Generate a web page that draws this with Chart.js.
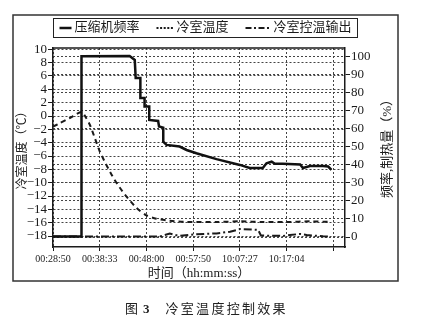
<!DOCTYPE html>
<html>
<head>
<meta charset="utf-8">
<script src="https://cdn.jsdelivr.net/npm/chart.js@4/dist/chart.umd.min.js"></script>
<style>
  html, body { margin: 0; padding: 0; background: #fff; }
  #wrap { width: 431px; height: 327px; position: relative; }
</style>
</head>
<body>
<div id="wrap"><canvas id="c"></canvas></div>
<script>
// x positions are in "tick steps": 0 = first labelled time, 1 = next, ...
const xLabels = ['00:28:50', '00:38:33', '00:48:00', '00:57:50', '10:07:27', '10:17:04', ''];
const leftTicks = [10, 8, 6, 4, 2, 0, -2, -4, -6, -8, -10, -12, -14, -16, -18];
const rightTicks = [0, 10, 20, 30, 40, 50, 60, 70, 80, 90, 100];

// compressor frequency (%)
const freqT = [0, 0.61, 0.61, 1.64, 1.75, 1.77, 1.87, 1.87, 1.96, 1.96, 2.06, 2.06, 2.25, 2.27, 2.36, 2.36,
               2.43, 2.71, 2.86, 3.07, 3.5, 4.0, 4.21, 4.49, 4.57, 4.68, 4.75, 4.92, 5.29, 5.35, 5.5, 5.78, 5.89, 5.96];
const freqV = [0.3, 0.3, 100.3, 100.5, 98.3, 88.2, 88.2, 77.1, 77.1, 72.4, 72.4, 65.0, 64.4, 61.3, 60.7, 52.9,
               51.1, 50.2, 48.3, 46.5, 43.2, 40.0, 38.3, 38.3, 40.9, 41.8, 40.6, 40.6, 40.3, 38.3, 39.4, 39.4, 39.1, 37.2];

// cold room temperature (°C)
const tempT = [0, 0.14, 0.36, 0.61, 0.71, 0.8, 0.9, 1.0, 1.14, 1.32, 1.54, 1.79, 2.0, 2.21, 2.5, 2.86, 3.5, 4.0, 4.5, 5.0, 5.5, 5.96];
const tempV = [-1.6, -1.1, -0.3, 0.6, -0.3, -1.5, -3.4, -5.3, -7.3, -9.6, -11.8, -13.8, -14.9, -15.4, -15.7, -15.9, -15.9, -15.8, -15.9, -15.9, -15.8, -15.9];

// cold room control output (%)
const ctrlT = [0, 2.29, 2.5, 2.71, 3.0, 3.5, 3.79, 4.0, 4.39, 4.45, 4.92, 5.07, 5.29, 5.43, 5.78, 5.89];
const ctrlV = [0.3, 0.3, 1.9, 0.6, 1.4, 2.0, 2.9, 4.4, 4.0, 0.8, 0.6, 1.1, 1.7, 1.1, 0.4, 0.3];

const seriesNames = ['压缩机频率', '冷室温度', '冷室控温输出'];
const xTitle = '时间（hh:mm:ss）';
const leftTitle = '冷室温度（℃）';
const rightTitle = '频率,制热量（%）';
const captionHead = '图';
const captionNum = '3';
const captionText = '冷室温度控制效果';

const pair = (xs, ys) => xs.map((x, i) => ({ x: x, y: ys[i] }));
const FONT = "'Liberation Serif', 'Noto Sans CJK SC', serif";
const INK = '#1b1b1b';
const W = 431, H = 327;
const FRAME = { left: 13, top: 15, right: 398, bottom: 281 };
const fmtNum = v => (v < 0 ? '\u2212' + Math.abs(v) : String(v));

const legendLook = [
  { w: 12, dash: [], lw: 2.5 },
  { w: 17, dash: [2, 1.6], lw: 2 },
  { w: 25, dash: [6, 2.5, 2, 2.5], lw: 2 }
];

const decor = {
  id: 'decor',
  afterDraw(chart) {
    const { ctx, chartArea: a } = chart;
    ctx.save();
    // outer frame
    ctx.strokeStyle = '#333';
    ctx.lineWidth = 1.5;
    ctx.strokeRect(FRAME.left, FRAME.top, FRAME.right - FRAME.left, FRAME.bottom - FRAME.top);
    // top edge of the plot area
    ctx.strokeStyle = INK;
    ctx.lineWidth = 1.5;
    ctx.beginPath();
    ctx.moveTo(a.left, a.top);
    ctx.lineTo(a.right, a.top);
    ctx.stroke();

    // legend box
    ctx.font = '13px ' + FONT;
    const padX = 6, gapS = 3, gapI = 17;
    let total = padX * 2;
    chart.data.datasets.forEach((ds, i) => {
      total += legendLook[i].w + gapS + ctx.measureText(ds.label).width + (i ? gapI : 0);
    });
    const boxTop = FRAME.top + 3, boxH = 19;
    let x = Math.round((FRAME.left + FRAME.right) / 2 - total / 2) + 0.5;
    ctx.lineWidth = 1;
    ctx.strokeStyle = '#222';
    ctx.strokeRect(x, boxTop + 0.5, Math.round(total), boxH);
    const cy = boxTop + boxH / 2 + 0.5;
    x += padX;
    chart.data.datasets.forEach((ds, i) => {
      const lk = legendLook[i];
      ctx.save();
      ctx.strokeStyle = ds.borderColor;
      ctx.lineWidth = lk.lw;
      ctx.setLineDash(lk.dash);
      ctx.beginPath();
      ctx.moveTo(x, cy);
      ctx.lineTo(x + lk.w, cy);
      ctx.stroke();
      ctx.restore();
      x += lk.w + gapS;
      ctx.fillStyle = INK;
      ctx.textBaseline = 'middle';
      ctx.textAlign = 'left';
      ctx.fillText(ds.label, x, cy);
      x += ctx.measureText(ds.label).width + gapI;
    });

    // right axis title, reading upwards
    ctx.save();
    ctx.font = '13px ' + FONT;
    ctx.fillStyle = INK;
    ctx.textAlign = 'center';
    ctx.textBaseline = 'middle';
    ctx.translate(388, (a.top + a.bottom) / 2 - 2);
    ctx.rotate(-Math.PI / 2);
    ctx.fillText(rightTitle, 0, 0);
    ctx.restore();

    // caption under the frame
    ctx.fillStyle = '#222';
    ctx.textBaseline = 'middle';
    ctx.textAlign = 'left';
    const capY = 310;
    let cx = 125;
    ctx.font = '13px ' + FONT;
    ctx.fillText(captionHead, cx, capY);
    cx += ctx.measureText(captionHead).width + 5;
    ctx.font = 'bold 13px ' + FONT;
    ctx.fillText(captionNum, cx, capY);
    cx += ctx.measureText(captionNum).width + 16;
    ctx.font = '13px ' + FONT;
    for (const ch of captionText) {
      ctx.fillText(ch, cx, capY);
      cx += ctx.measureText(ch).width + 2.3;
    }
    ctx.restore();
  }
};

const gridCommon = {
  color: '#444',
  lineWidth: 1,
  tickColor: INK,
  tickWidth: 1,
  tickBorderDash: [],
  tickLength: 5
};

new Chart(document.getElementById('c'), {
  type: 'line',
  data: {
    datasets: [
      {
        label: seriesNames[0],
        data: pair(freqT, freqV),
        yAxisID: 'yR',
        borderColor: '#111',
        borderWidth: 2.5,
        pointRadius: 0,
        tension: 0,
        borderJoinStyle: 'miter'
      },
      {
        label: seriesNames[1],
        data: pair(tempT, tempV),
        yAxisID: 'yL',
        borderColor: '#1a1a1a',
        borderWidth: 2,
        borderDash: [5, 4],
        pointRadius: 0,
        tension: 0.25
      },
      {
        label: seriesNames[2],
        data: pair(ctrlT, ctrlV),
        yAxisID: 'yR',
        borderColor: '#1a1a1a',
        borderWidth: 2,
        borderDash: [8, 3, 2, 3],
        pointRadius: 0,
        tension: 0
      }
    ]
  },
  options: {
    responsive: true,
    maintainAspectRatio: false,
    animation: false,
    devicePixelRatio: 1,
    layout: {
      padding: { left: FRAME.left, right: W - FRAME.right, top: 48, bottom: H - FRAME.bottom }
    },
    plugins: {
      legend: { display: false },
      tooltip: { enabled: false }
    },
    scales: {
      x: {
        type: 'linear',
        position: 'bottom',
        min: 0,
        max: 6.25,
        afterBuildTicks: s => { s.ticks = xLabels.map((_, i) => ({ value: i })); },
        afterFit: s => { s.height = 34; },
        ticks: {
          autoSkip: false,
          maxRotation: 0,
          padding: 2,
          color: INK,
          font: { family: FONT, size: 10 },
          callback: v => xLabels[Math.round(v)]
        },
        grid: Object.assign({}, gridCommon, { tickLength: 4 }),
        border: { display: true, color: INK, width: 1.5, dash: [2, 2] },
        title: {
          display: true,
          text: xTitle,
          color: INK,
          font: { family: FONT, size: 13 },
          padding: { top: 0, bottom: 0 }
        }
      },
      yL: {
        type: 'linear',
        position: 'left',
        min: -19.65,
        max: 10.2,
        afterBuildTicks: s => { s.ticks = leftTicks.map(v => ({ value: v })); },
        afterFit: s => { s.width = 40; },
        ticks: {
          autoSkip: false,
          padding: 1,
          color: INK,
          font: { family: FONT, size: 13 },
          callback: v => fmtNum(v)
        },
        grid: Object.assign({}, gridCommon),
        border: { display: true, color: INK, width: 1.5, dash: [2, 2] },
        title: {
          display: true,
          text: leftTitle,
          color: INK,
          font: { family: FONT, size: 12 },
          padding: { top: 3, bottom: 0 }
        }
      },
      yR: {
        type: 'linear',
        position: 'right',
        min: -5.55,
        max: 104.9,
        afterBuildTicks: s => { s.ticks = rightTicks.map(v => ({ value: v })); },
        afterFit: s => { s.width = 53; },
        ticks: {
          autoSkip: false,
          padding: 1,
          color: INK,
          font: { family: FONT, size: 13 },
          callback: v => fmtNum(v)
        },
        grid: Object.assign({}, gridCommon),
        border: { display: true, color: INK, width: 1.5, dash: [2, 2] }
      }
    }
  },
  plugins: [decor]
});
</script>
</body>
</html>
